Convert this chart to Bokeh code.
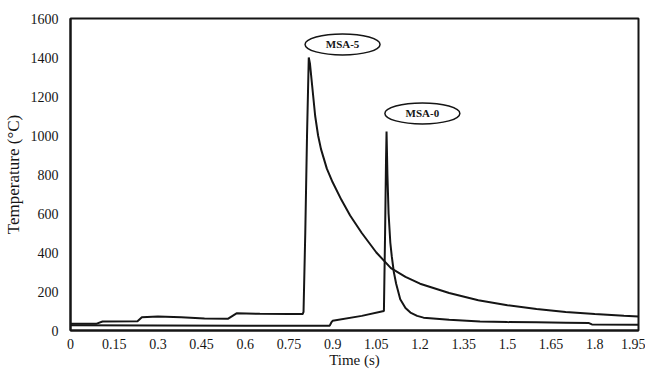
from bokeh.plotting import figure
from bokeh.models import Range1d, FixedTicker, ColumnDataSource
from bokeh.core.properties import value
from bokeh.embed import file_html
from bokeh.resources import INLINE

# ---- data ----
x_ticks = [0, 0.15, 0.3, 0.45, 0.6, 0.75, 0.9, 1.05, 1.2, 1.35, 1.5, 1.65, 1.8, 1.95]
x_tick_labels = ["0", "0.15", "0.3", "0.45", "0.6", "0.75", "0.9", "1.05", "1.2",
                 "1.35", "1.5", "1.65", "1.8", "1.95"]
y_ticks = [0, 200, 400, 600, 800, 1000, 1200, 1400, 1600]

msa5_t = [0.0, 0.09, 0.11, 0.23, 0.245, 0.30, 0.38, 0.46, 0.54, 0.57, 0.65, 0.75, 0.797,
          0.80, 0.806, 0.812, 0.818, 0.822, 0.83, 0.84, 0.85, 0.86, 0.88, 0.90, 0.93,
          0.96, 1.00, 1.05, 1.10, 1.15, 1.20, 1.30, 1.40, 1.50, 1.60, 1.70, 1.80, 1.90, 1.95]
msa5_T = [35, 35, 46, 48, 68, 72, 68, 62, 60, 88, 86, 84, 84,
          95, 500, 1000, 1400, 1370, 1250, 1100, 1000, 930, 830, 760, 670,
          590, 500, 400, 320, 275, 240, 192, 155, 130, 110, 95, 85, 76, 72]

msa0_t = [0.0, 0.3, 0.6, 0.89, 0.895, 0.90, 1.0, 1.076, 1.080, 1.083, 1.085, 1.088,
          1.092, 1.098, 1.103, 1.11, 1.118, 1.132, 1.15, 1.167, 1.19, 1.212, 1.3,
          1.406, 1.5, 1.6, 1.7, 1.78, 1.79, 1.95]
msa0_T = [27, 26, 25, 25, 40, 50, 75, 100, 500, 850, 1020, 800,
          600, 450, 380, 300, 240, 160, 115, 92, 75, 66, 55,
          46, 43, 42, 40, 38, 31, 30]

labels = ["MSA-5", "MSA-0"]
label_t = [0.934, 1.208]
label_T = [1467, 1113]

FONT = "Liberation Serif"
INK = "#151515"

p = figure(width=645, height=370, output_backend="svg", toolbar_location=None,
           x_range=Range1d(0, 1.95), y_range=Range1d(0, 1600),
           min_border_left=68, min_border_right=7, min_border_top=18, min_border_bottom=40)

p.line(msa5_t, msa5_T, line_color=INK, line_width=2)
p.line(msa0_t, msa0_T, line_color=INK, line_width=2)

src = ColumnDataSource(dict(x=label_t, y=label_T, text=labels))
p.ellipse(x="x", y="y", width=75, height=21, width_units="screen", height_units="screen",
          source=src, fill_color="white", line_color=INK, line_width=1.5)
p.text(x="x", y="y", text="text", source=src, text_font=value(FONT), text_font_style="bold",
       text_font_size="11px", text_align="center", text_baseline="middle", text_color=INK)

p.xgrid.visible = False
p.ygrid.visible = False
p.outline_line_color = INK
p.outline_line_width = 2
p.outline_line_alpha = 1

p.xaxis.ticker = FixedTicker(ticks=x_ticks)
p.xaxis.major_label_overrides = {t: l for t, l in zip(x_ticks, x_tick_labels)}
p.yaxis.ticker = FixedTicker(ticks=y_ticks)
p.xaxis.axis_label = "Time (s)"
p.yaxis.axis_label = "Temperature (°C)"

for ax in (p.xaxis, p.yaxis):
    ax.axis_line_color = INK
    ax.axis_line_width = 2
    ax.major_tick_line_color = None
    ax.minor_tick_line_color = None
    ax.major_label_text_font = FONT
    ax.major_label_text_font_size = "14px"
    ax.major_label_text_color = INK
    ax.axis_label_text_font = FONT
    ax.axis_label_text_font_style = "normal"
    ax.axis_label_text_color = INK
p.xaxis.axis_label_text_font_size = "15px"
p.yaxis.axis_label_text_font_size = "17px"
p.xaxis.major_label_standoff = 2
p.xaxis.axis_label_standoff = 0
p.yaxis.major_label_standoff = 6
p.yaxis.axis_label_standoff = 5

open("out.html", "w").write(file_html(p, INLINE))
